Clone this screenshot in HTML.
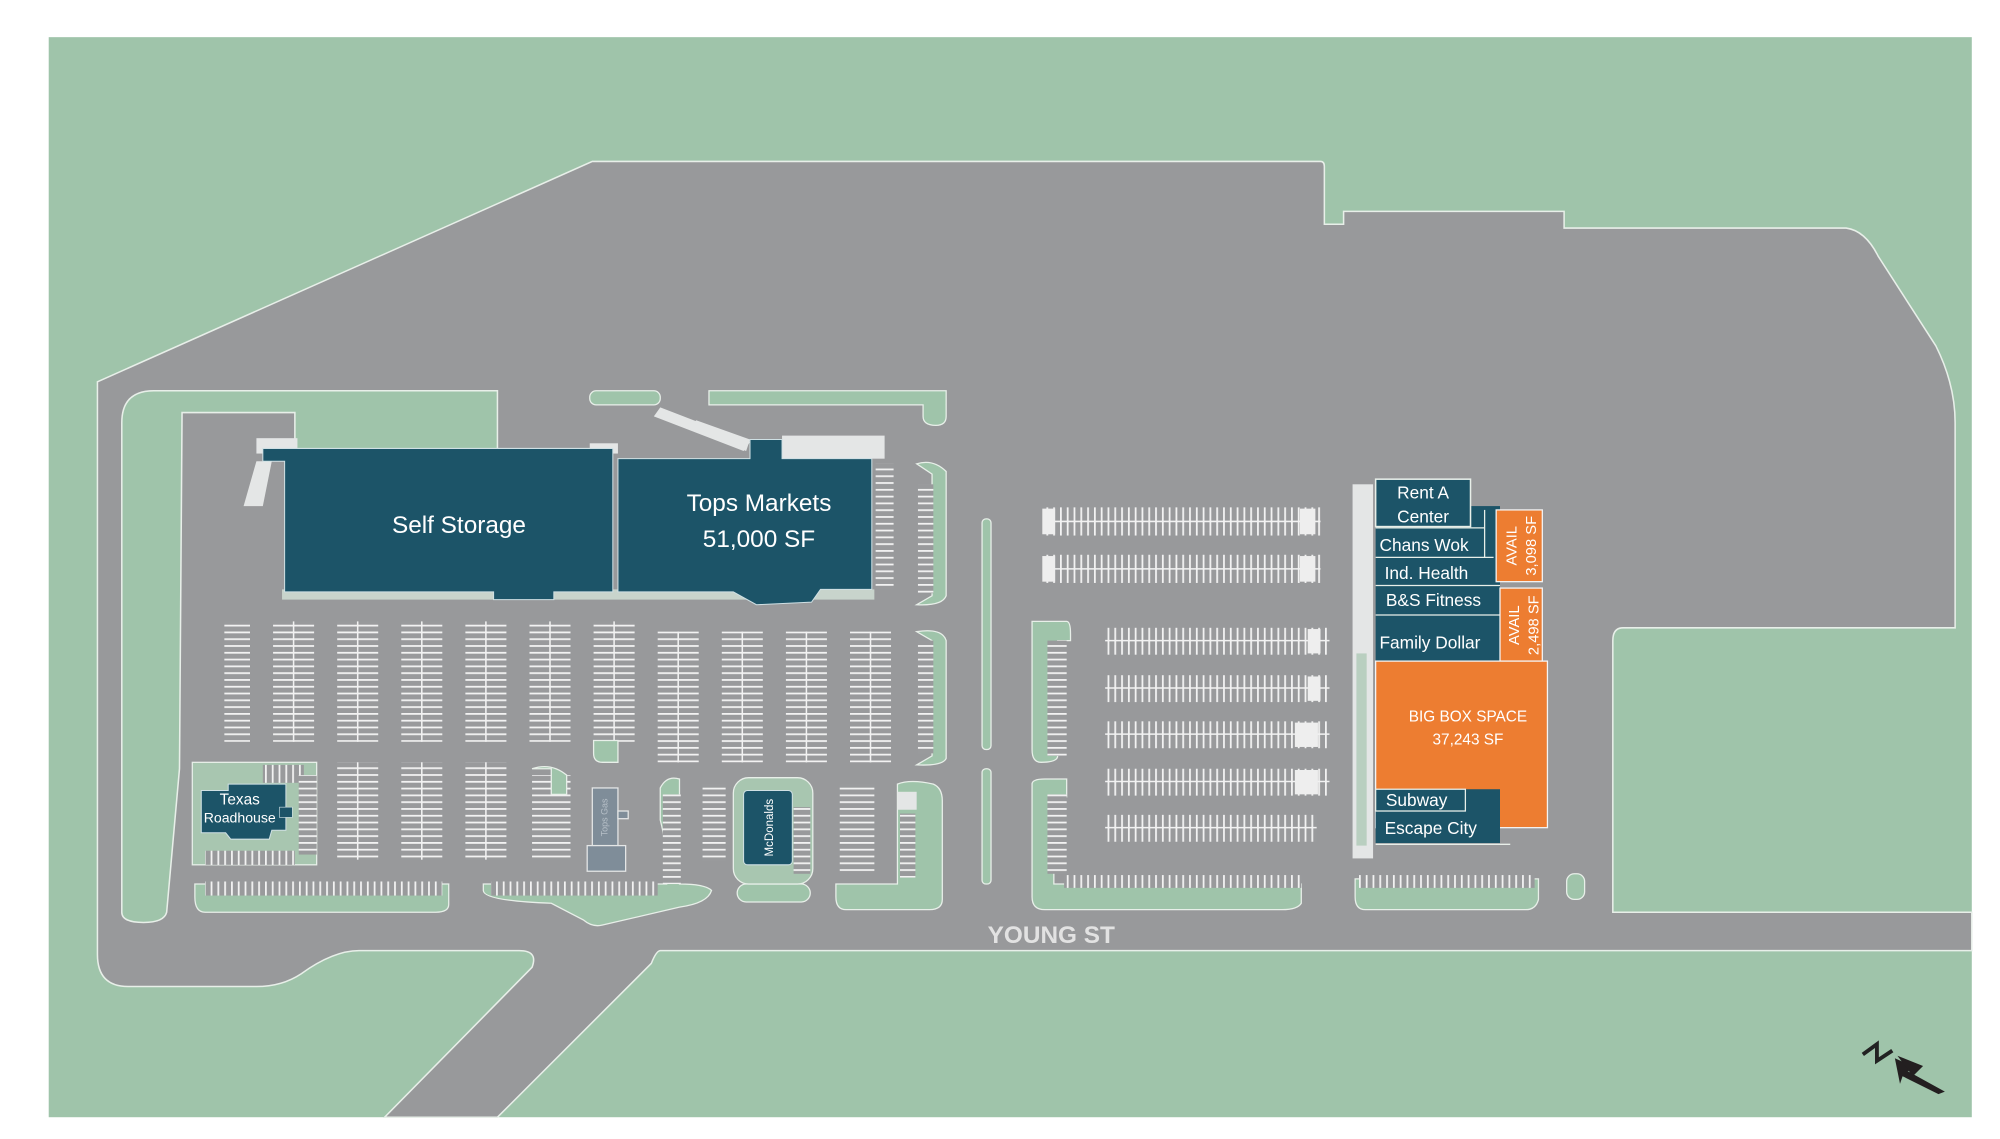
<!DOCTYPE html>
<html><head><meta charset="utf-8"><style>
html,body{margin:0;padding:0;background:#fff;}
svg{display:block;}
text{font-family:"Liberation Sans",sans-serif;}
</style></head><body>
<svg width="2000" height="1139" viewBox="0 0 1560 889" preserveAspectRatio="none" xmlns="http://www.w3.org/2000/svg">
<defs>
<pattern id="vs" width="4" height="5.3" patternUnits="userSpaceOnUse"><rect width="4" height="5.3" fill="#999a9c"/><rect y="0" width="4" height="1.4" fill="#f2f2f2"/></pattern>
<pattern id="hs" width="5.3" height="4" patternUnits="userSpaceOnUse"><rect width="5.3" height="4" fill="#999a9c"/><rect x="0" width="1.4" height="4" fill="#f2f2f2"/></pattern>
</defs>
<rect width="1560" height="889" fill="#fff"/>
<rect x="38" y="29" width="1500" height="843" fill="#9fc4aa"/>
<!-- main lot -->
<path d="M76,298 L462,126 L1030,126 Q1033,126 1033,130 L1033,175 L1048,175 L1048,165 L1220,165 L1220,178 L1440,178 Q1455,180 1465,200 L1510,270 Q1525,300 1525,330 L1525,490 L1266,490 Q1258,490 1258,500 L1258,712 L1538,712 L1538,742 L515,742 Q512,742 508,752 L388,872 L300,872 L415,755 Q420,742 405,742 L280,742 Q260,742 235,760 Q220,770 200,770 L100,770 Q76,770 76,745 Z" fill="#98999b" stroke="#e8efe9" stroke-width="1.2"/>
<!-- left green L -->
<path d="M95,712 L95,330 Q95,305 120,305 L388,305 L388,352 L230,352 L230,322 L142,322 L140,600 L130,712 Q128,720 112,720 Q95,720 95,712 Z" fill="#9fc4aa" stroke="#e8efe9" stroke-width="1.2"/>
<rect x="460" y="305" width="55" height="11" rx="5" fill="#9fc4aa" stroke="#e8efe9"/>
<path d="M553,305 L738,305 L738,325 Q738,332 730,332 Q720,332 720,325 L720,316 L553,316 Z" fill="#9fc4aa" stroke="#e8efe9"/>
<!-- light areas near buildings -->
<rect x="200" y="342" width="32" height="12" fill="#e4e6e6"/>
<polygon points="190,395 200,360 212,360 205,395" fill="#e4e6e6"/>
<polygon points="510,325 515,318 585,345 580,352" fill="#e4e6e6"/>
<polygon points="538,335 543,328 585,343 582,352" fill="#e4e6e6"/>
<rect x="610" y="340" width="80" height="18" fill="#e4e6e6"/>
<rect x="460" y="346" width="22" height="8" fill="#e4e6e6"/>
<rect x="220" y="460" width="462" height="8" fill="#c8d4cc"/>
<!-- Self storage -->
<path d="M205,350 L478,350 L478,462 L432,462 L432,468 L385,468 L385,462 L222,462 L222,360 L205,360 Z" fill="#1c5468" stroke="#cfe0e4" stroke-width="0.8"/>
<!-- Tops -->
<path d="M482,358 L585,358 L585,343 L610,343 L610,358 L680,358 L680,460 L640,460 L633,470 L590,472 L572,462 L482,462 Z" fill="#1c5468" stroke="#cfe0e4" stroke-width="0.8"/>
<text x="358" y="416" font-size="19" fill="#fff" text-anchor="middle">Self Storage</text>
<text x="592" y="399" font-size="19" fill="#fff" text-anchor="middle">Tops Markets</text>
<text x="592" y="427" font-size="19" fill="#fff" text-anchor="middle">51,000 SF</text>
<!-- parking columns left -->
<g stroke="#f2f2f2" stroke-width="1.2">
<rect x="683" y="362" width="14" height="98" fill="url(#vs)" stroke="none"/>
<rect x="175" y="485" width="20" height="94" fill="url(#vs)" stroke="none"/>
<rect x="213" y="485" width="32" height="94" fill="url(#vs)" stroke="none"/><line x1="229" y1="485" x2="229" y2="579"/>
<rect x="263" y="485" width="32" height="94" fill="url(#vs)" stroke="none"/><line x1="279" y1="485" x2="279" y2="579"/>
<rect x="313" y="485" width="32" height="94" fill="url(#vs)" stroke="none"/><line x1="329" y1="485" x2="329" y2="579"/>
<rect x="363" y="485" width="32" height="94" fill="url(#vs)" stroke="none"/><line x1="379" y1="485" x2="379" y2="579"/>
<rect x="413" y="485" width="32" height="94" fill="url(#vs)" stroke="none"/><line x1="429" y1="485" x2="429" y2="579"/>
<rect x="463" y="485" width="32" height="94" fill="url(#vs)" stroke="none"/><line x1="479" y1="485" x2="479" y2="595"/>
<rect x="513" y="493" width="32" height="102" fill="url(#vs)" stroke="none"/><line x1="529" y1="493" x2="529" y2="595"/>
<rect x="563" y="493" width="32" height="102" fill="url(#vs)" stroke="none"/><line x1="579" y1="493" x2="579" y2="595"/>
<rect x="613" y="493" width="32" height="102" fill="url(#vs)" stroke="none"/><line x1="629" y1="493" x2="629" y2="595"/>
<rect x="663" y="493" width="32" height="102" fill="url(#vs)" stroke="none"/><line x1="679" y1="493" x2="679" y2="595"/>
<rect x="263" y="595" width="32" height="76" fill="url(#vs)" stroke="none"/><line x1="279" y1="595" x2="279" y2="671"/>
<rect x="313" y="595" width="32" height="76" fill="url(#vs)" stroke="none"/><line x1="329" y1="595" x2="329" y2="671"/>
<rect x="363" y="595" width="32" height="76" fill="url(#vs)" stroke="none"/><line x1="379" y1="595" x2="379" y2="671"/>
<rect x="415" y="605" width="30" height="66" fill="url(#vs)" stroke="none"/>
<rect x="233" y="600" width="14" height="70" fill="url(#vs)" stroke="none"/>
</g>
<!-- green islands in left lot -->
<path d="M715,362 Q728,358 738,368 L738,465 Q735,473 715,472 L727,465 L727,370 Z" fill="#9fc4aa" stroke="#e8efe9"/>
<rect x="716" y="378" width="12" height="85" fill="url(#vs)"/>
<path d="M715,493 Q735,490 738,500 L738,592 Q735,598 715,597 L727,590 L727,500 Z" fill="#9fc4aa" stroke="#e8efe9"/>
<rect x="716" y="500" width="12" height="88" fill="url(#vs)"/>
<path d="M463,578 L482,578 L482,595 L470,595 Q463,595 463,588 Z" fill="#9fc4aa" stroke="#e8efe9"/>
<path d="M415,600 Q430,595 442,605 L442,620 L430,620 L430,600 Z" fill="#9fc4aa" stroke="#e8efe9"/>
<!-- bottom islands -->
<path d="M152,690 L350,690 L350,706 Q350,712 340,712 L160,712 Q152,712 152,700 Z" fill="#9fc4aa" stroke="#e8efe9"/>
<rect x="160" y="688" width="185" height="11" fill="url(#hs)"/>
<path d="M377,690 L520,690 L520,672 Q520,660 515,640 L515,615 Q520,605 530,608 L530,690 Q550,690 555,695 Q552,705 530,708 L470,722 Q462,724 455,718 L430,705 Q377,703 377,695 Z" fill="#9fc4aa" stroke="#e8efe9"/>
<rect x="383" y="688" width="130" height="11" fill="url(#hs)"/>
<rect x="517" y="620" width="14" height="70" fill="url(#vs)"/>
<rect x="575" y="690" width="57" height="14" rx="7" fill="#9fc4aa" stroke="#e8efe9"/>
<path d="M652,690 L700,690 L700,612 Q710,608 728,612 Q735,615 735,625 L735,702 Q735,710 725,710 L660,710 Q652,710 652,700 Z" fill="#9fc4aa" stroke="#e8efe9"/>
<rect x="700" y="618" width="15" height="14" fill="#e4e6e6"/>
<rect x="702" y="635" width="12" height="50" fill="url(#vs)"/>
<rect x="655" y="612" width="27" height="68" fill="url(#vs)"/>
<rect x="548" y="612" width="18" height="60" fill="url(#vs)"/>
<!-- McDonalds pad -->
<rect x="572" y="607" width="62" height="83" rx="12" fill="#a8c6b0" stroke="#e8efe9"/>
<rect x="580" y="617" width="38" height="58" rx="3" fill="#1c5468" stroke="#cfe0e4" stroke-width="0.8"/>
<rect x="619" y="630" width="13" height="52" fill="url(#vs)"/>
<text transform="translate(603,646) rotate(-90)" font-size="9" fill="#fff" text-anchor="middle">McDonalds</text>
<!-- Tops Gas -->
<rect x="462" y="615" width="20" height="45" fill="#7f8d99" stroke="#e4e6e6"/>
<rect x="458" y="660" width="30" height="20" fill="#7f8d99" stroke="#e4e6e6"/>
<rect x="482" y="633" width="8" height="6" fill="#7f8d99" stroke="#e4e6e6"/>
<text transform="translate(474,638) rotate(-90)" font-size="7" fill="#b7c0c8" text-anchor="middle">Tops Gas</text>
<!-- Texas Roadhouse -->
<rect x="150" y="595" width="97" height="80" fill="#a8c6b0" stroke="#e8efe9"/>
<rect x="205" y="597" width="32" height="14" fill="url(#hs)"/>
<rect x="160" y="664" width="70" height="11" fill="url(#hs)"/>
<rect x="233" y="605" width="14" height="62" fill="url(#vs)"/>
<path d="M157,617 L178,617 L178,612 L223,612 L223,648 L212,648 L210,655 L180,655 L176,650 L157,650 Z" fill="#1c5468" stroke="#cfe0e4" stroke-width="0.8"/>
<rect x="218" y="630" width="10" height="8" fill="#1c5468" stroke="#cfe0e4" stroke-width="0.5"/>
<text x="187" y="628" font-size="12" fill="#fff" text-anchor="middle">Texas</text>
<text x="187" y="642" font-size="11" fill="#fff" text-anchor="middle">Roadhouse</text>
<!-- divider islands -->
<rect x="766" y="405" width="7" height="180" rx="3" fill="#9fc4aa" stroke="#e8efe9"/>
<rect x="766" y="600" width="7" height="90" rx="3" fill="#9fc4aa" stroke="#e8efe9"/>
<!-- right-middle islands -->
<path d="M805,485 L832,485 Q835,485 835,495 L835,500 L825,500 L825,590 Q825,595 812,595 Q805,595 805,585 Z" fill="#9fc4aa" stroke="#e8efe9"/>
<rect x="817" y="500" width="15" height="90" fill="url(#vs)"/>
<path d="M805,612 Q805,608 815,608 L832,608 L832,622 L822,622 L822,690 L1015,690 L1015,705 Q1012,710 1000,710 L815,710 Q805,710 805,700 Z" fill="#9fc4aa" stroke="#e8efe9"/>
<rect x="817" y="620" width="15" height="62" fill="url(#vs)"/>
<rect x="830" y="683" width="185" height="10" fill="url(#hs)"/>
<path d="M1057,686 L1200,686 L1200,702 Q1198,710 1190,710 L1065,710 Q1057,710 1057,700 Z" fill="#9fc4aa" stroke="#e8efe9"/>
<rect x="1060" y="683" width="137" height="10" fill="url(#hs)"/>
<rect x="1222" y="682" width="14" height="20" rx="6" fill="#9fc4aa" stroke="#e8efe9"/>
<!-- horizontal rows -->
<g stroke="#f2f2f2" stroke-width="1.2">
<rect x="815" y="396" width="215" height="22" fill="url(#hs)" stroke="none"/><line x1="815" y1="407" x2="1030" y2="407"/>
<rect x="815" y="433" width="215" height="22" fill="url(#hs)" stroke="none"/><line x1="815" y1="444" x2="1030" y2="444"/>
<rect x="862" y="490" width="175" height="21" fill="url(#hs)" stroke="none"/><line x1="862" y1="500" x2="1037" y2="500"/>
<rect x="862" y="527" width="175" height="21" fill="url(#hs)" stroke="none"/><line x1="862" y1="537" x2="1037" y2="537"/>
<rect x="862" y="563" width="175" height="21" fill="url(#hs)" stroke="none"/><line x1="862" y1="573" x2="1037" y2="573"/>
<rect x="862" y="600" width="175" height="21" fill="url(#hs)" stroke="none"/><line x1="862" y1="610" x2="1037" y2="610"/>
<rect x="862" y="636" width="165" height="21" fill="url(#hs)" stroke="none"/><line x1="862" y1="646" x2="1027" y2="646"/>
</g>
<g fill="#eeeeee"><rect x="813" y="397" width="10" height="20"/><rect x="1014" y="397" width="12" height="20"/><rect x="813" y="434" width="10" height="20"/><rect x="1014" y="434" width="12" height="20"/>
<rect x="1020" y="491" width="10" height="19"/><rect x="1020" y="528" width="10" height="19"/><rect x="1010" y="564" width="18" height="19"/><rect x="1010" y="601" width="18" height="19"/></g>
<!-- strip walkway -->
<rect x="1055" y="378" width="16" height="292" fill="#e4e6e6"/>
<rect x="1058" y="510" width="8" height="150" fill="#b9cfc0"/>
<!-- strip center -->
<rect x="1073" y="395" width="97" height="122" fill="#1c5468"/>
<rect x="1073" y="374" width="74" height="37" fill="#1c5468" stroke="#e8efe9" stroke-width="1.2"/>
<line x1="1073" y1="412" x2="1158" y2="412" stroke="#e8efe9"/>
<line x1="1158" y1="398" x2="1158" y2="435" stroke="#e8efe9"/>
<line x1="1073" y1="435" x2="1165" y2="435" stroke="#e8efe9"/>
<line x1="1073" y1="457" x2="1170" y2="457" stroke="#e8efe9"/>
<line x1="1073" y1="480" x2="1170" y2="480" stroke="#e8efe9"/>
<rect x="1167" y="398" width="36" height="56" fill="#ed7d31" stroke="#f4f4f4" stroke-width="1"/>
<rect x="1170" y="459" width="33" height="57" fill="#ed7d31" stroke="#f4f4f4" stroke-width="1"/>
<rect x="1073" y="516" width="134" height="130" fill="#ed7d31" stroke="#f4f4f4" stroke-width="1"/>
<rect x="1073" y="616" width="97" height="42" fill="#1c5468"/>
<rect x="1073" y="616" width="70" height="17" fill="#1c5468" stroke="#e8efe9" stroke-width="1"/>
<line x1="1073" y1="659" x2="1178" y2="659" stroke="#e8efe9"/>
<g fill="#fff" font-size="13.5">
<text x="1110" y="389" text-anchor="middle">Rent  A</text>
<text x="1110" y="408" text-anchor="middle">Center</text>
<text x="1076" y="430">Chans Wok</text>
<text x="1080" y="452">Ind. Health</text>
<text x="1081" y="473">B&amp;S Fitness</text>
<text x="1076" y="506">Family Dollar</text>
<text x="1081" y="629">Subway</text>
<text x="1080" y="651">Escape City</text>
</g>
<g fill="#fff" font-size="11.5">
<text transform="translate(1183,426) rotate(-90)" text-anchor="middle">AVAIL</text>
<text transform="translate(1198,426) rotate(-90)" text-anchor="middle">3,098 SF</text>
<text transform="translate(1185,488) rotate(-90)" text-anchor="middle">AVAIL</text>
<text transform="translate(1200,488) rotate(-90)" text-anchor="middle">2,498 SF</text>
</g>
<text x="1145" y="563" font-size="12" fill="#fff" text-anchor="middle">BIG BOX SPACE</text>
<text x="1145" y="581" font-size="12" fill="#fff" text-anchor="middle">37,243 SF</text>
<!-- Young st -->
<text x="820" y="736" font-size="19" font-weight="bold" fill="#e2e2e2" text-anchor="middle">YOUNG ST</text>
<!-- north arrow -->
<polyline points="1453,823 1464,815 1464,828 1476,820" fill="none" stroke="#222" stroke-width="3"/>
<polygon points="1478,826 1496,834 1488,836 1517,852 1512,854 1484,840 1482,846" fill="#231f20"/>
<polygon points="1480,824 1500,832 1492,840" fill="#231f20"/>
</svg>
</body></html>
